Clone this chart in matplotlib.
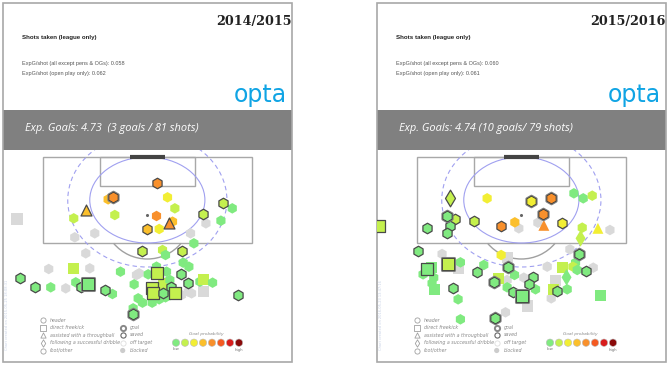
import numpy as np
import matplotlib.pyplot as plt
from matplotlib.patches import Rectangle, Ellipse, Arc

W, H = 670, 365

seasons = ['2014/2015', '2015/2016']
expg_all = [0.058, 0.060]
expg_open = [0.062, 0.061]
band_texts = ['Exp. Goals: 4.73  (3 goals / 81 shots)',
              'Exp. Goals: 4.74 (10 goals/ 79 shots)']
created = ['Chart created on 2015-05-25 18:08:31', 'Chart created on 2016-05-23 13:47:16']

# shot positions in pitch units (x across, y down from top of pitch area)
x_1415 = [470, 340, 325, 503, 525, 345, 260, 222, 470, 518, 508, 442, 478, 668, 697,
          608, 663, 618, 52, 285, 225, 572, 582, 428, 488, 497, 545, 258, 550, 567,
          147, 222, 270, 362, 470, 500, 410, 418, 445, 472, 543, 62, 105, 153, 198,
          228, 245, 265, 315, 338, 403, 455, 460, 490, 510, 512, 490, 525, 565, 600,
          610, 638, 545, 565, 575, 610, 715, 415, 428, 457, 478, 497, 512, 400, 400]
y_1415 = [100, 142, 148, 142, 175, 195, 180, 205, 198, 215, 218, 237, 237, 158, 175,
          193, 212, 220, 207, 250, 262, 250, 280, 303, 300, 315, 303, 310, 338, 350,
          357, 355, 355, 365, 350, 365, 375, 370, 373, 370, 373, 383, 412, 412, 415,
          397, 412, 402, 420, 432, 403, 415, 430, 400, 390, 410, 430, 430, 400, 395,
          388, 398, 435, 425, 430, 425, 435, 445, 458, 458, 448, 442, 435, 475, 493]
kind_1415 = 'hhhhhh^hhh^hhhh' 'hhhshhhhhhhhhhh' 'hshhhhhhhshhhhh' 'hhshhhssshhhshh' 'shhhhshhhhhhhhh'
prob_1415 = [4, 4, 3, 2, 1, 1, 3, 1, 4, 3, 4, 3, 2, 1, 0,
             1, 0, 0, 0, 0, 0, 0, 0, 1, 1, 0, 1, 0, 0, 0,
             0, 1, 0, 0, 0, 0, 0, 0, 0, 1, 0, 0, 0, 0, 0,
             0, 0, 0, 0, 0, 0, 1, 1, 1, 0, 0, 0, 1, 0, 0,
             1, 0, 0, 0, 0, 0, 0, 0, 0, 0, 0, 0, 0, 0, 0]
result_1415 = 'sgoooosooossoso' 'sobbbbbosoosboo' 'bobooobbossssob' 'osgsoossoosssso' 'oobbbbsooooooog'

x_1516 = [600, 628, 655, 340, 472, 532, 228, 508, 220, 245, 228, 220, 160, 300, 382,
          423, 435, 492, 510, 565, 625, 672, 708, 620, 15, 132, 205, 222, 260, 382,
          400, 588, 615, 605, 330, 160, 173, 148, 180, 175, 182, 253, 310, 403, 422,
          520, 565, 597, 610, 637, 658, 375, 362, 400, 450, 478, 465, 485, 545, 578,
          238, 400, 418, 445, 538, 550, 580, 680, 253, 532, 460, 395, 260, 365]
y_1516 = [130, 145, 137, 145, 153, 145, 145, 193, 198, 208, 228, 248, 233, 212, 228,
          217, 235, 218, 226, 218, 233, 235, 240, 265, 228, 302, 312, 342, 337, 315,
          322, 298, 312, 338, 345, 358, 352, 373, 383, 400, 418, 355, 367, 352, 375,
          350, 352, 350, 360, 362, 353, 385, 395, 390, 383, 380, 403, 418, 392, 382,
          415, 412, 425, 438, 418, 422, 418, 437, 448, 445, 468, 487, 508, 503]
kind_1516 = 'hhhhhhdhhhhhhhh' 'hhh^hh^hdshhshh' 'shhhhsshhhsshhh' 'hshhhhshhhhhhsd' 'hhhsshhshhshhh'
prob_1516 = [0, 0, 1, 2, 2, 4, 1, 4, 0, 1, 0, 0, 0, 1, 4,
             3, 0, 0, 4, 2, 1, 2, 0, 1, 1, 0, 0, 1, 0, 2,
             0, 0, 0, 0, 0, 0, 0, 0, 0, 0, 0, 0, 0, 0, 0,
             0, 1, 1, 0, 0, 0, 1, 0, 0, 0, 0, 0, 0, 0, 0,
             0, 0, 0, 0, 1, 0, 0, 0, 0, 0, 0, 0, 0, 0]
result_1516 = 'ooooggsggssssss' 'obbosoobossbgoo' 'bbgoosooooobsgo' 'booosbogbbssobo' 'sosgosooobbbog'

shots = [(x_1415, y_1415, kind_1415, prob_1415, result_1415),
         (x_1516, y_1516, kind_1516, prob_1516, result_1516)]

prob_colors = ['#80ea80', '#c4f04e', '#f2ee34', '#fbbf2c', '#f8902c', '#f45a22', '#d81c1c', '#8a0a0a']
kind_names = ['header', 'direct freekick', 'assisted with a throughball',
              'following a successful dribble', 'foot/other']
kind_marks = ['o', 's', '^', 'd', 'o']
result_names = ['goal', 'saved', 'off target', 'blocked']

sizes = {'h': 58, 's': 64, '^': 62, 'd': 72}
zord = {'b': 2, 'o': 3, 's': 4, 'g': 5}

fig = plt.figure(figsize=(6.7, 3.65), dpi=100)
bg = fig.add_axes([0, 0, 1, 1])
bg.set_xlim(0, W)
bg.set_ylim(H, 0)
bg.axis('off')


def px_axes(x0, y0, x1, y1):
    return fig.add_axes([x0 / W, 1 - y1 / H, (x1 - x0) / W, (y1 - y0) / H])


for i, dx in enumerate([0, 374]):
    # panel frame and header
    bg.add_patch(Rectangle((3 + dx, 110), 289, 40, fc='#808080', ec='none'))
    bg.add_patch(Rectangle((3 + dx, 3), 289, 359, fill=False, ec='#a8a8a8', lw=1.2))
    bg.text(292 + dx, 25, seasons[i], ha='right', va='baseline', family='DejaVu Serif',
            weight='bold', fontsize=9.2, color='#222222')
    bg.text(22 + dx, 38, 'Shots taken (league only)', ha='left', va='center',
            family='Liberation Sans', weight='bold', fontsize=4.4, color='#222222')
    bg.text(22 + dx, 63, 'ExpG/shot (all except pens & OGs): %.3f' % expg_all[i],
            ha='left', va='center', family='Liberation Sans', fontsize=4.0, color='#555555')
    bg.text(22 + dx, 73, 'ExpG/shot (open play only): %.3f' % expg_open[i],
            ha='left', va='center', family='Liberation Sans', fontsize=4.0, color='#555555')
    bg.text(287 + dx, 102, 'opta', ha='right', va='baseline', family='DejaVu Sans',
            fontsize=17, color='#10a4e4')
    bg.text(25 + dx, 129, band_texts[i], ha='left', va='center', family='Open Sans',
            style='italic', fontsize=7.9, color='white')
    bg.text(7 + dx, 350, created[i], rotation=90, ha='center', va='bottom',
            fontsize=2.6, color='#c8d2e6')

    # legend
    rows = [320, 327.5, 335, 342.5, 350.5]
    for r, (nm, mk) in enumerate(zip(kind_names, kind_marks)):
        bg.scatter(43 + dx, rows[r], marker=mk, s=14, fc='white', ec='#a0a0a0', lw=0.6)
        bg.text(50 + dx, rows[r], nm, ha='left', va='center', fontsize=3.4,
                style='italic', color='#8a8a8a')
    res_style = [('white', '#888888', 1.4), ('white', '#666666', 0.8),
                 ('white', '#dddddd', 0.6), ('#cccccc', 'none', 0)]
    for r, nm in enumerate(result_names):
        fc, ec, lw = res_style[r]
        bg.scatter(122.7 + dx, rows[r + 1], marker='o', s=14, fc=fc, ec=ec, lw=lw)
        bg.text(130 + dx, rows[r + 1], nm, ha='left', va='center', fontsize=3.4,
                style='italic', color='#8a8a8a')
    bg.text(206 + dx, 333.7, 'Goal probability', ha='center', va='center', fontsize=3.2,
            style='italic', color='#8a8a8a')
    cx = 176 + dx + 9 * np.arange(len(prob_colors))
    bg.scatter(cx, np.full(len(cx), 342.7), s=28, c=prob_colors, ec='#bbbbbb', lw=0.4)
    bg.text(cx[0], 349.5, 'low', ha='center', va='center', fontsize=2.8, color='#777777')
    bg.text(cx[-1], 349.5, 'high', ha='center', va='center', fontsize=2.8, color='#777777')

    # pitch
    ax = px_axes(3 + dx, 150, 292 + dx, 362)
    ax.set_xlim(10, 876)
    ax.set_ylim(636, 0)
    ax.axis('off')
    ax.patch.set_alpha(0)
    ax.add_patch(Rectangle((130, 20), 625, 260, fill=False, ec='#a8a8a8', lw=1.0))
    ax.add_patch(Rectangle((300, 20), 285, 88, fill=False, ec='#a8a8a8', lw=1.0))
    ax.plot([390, 495], [20, 20], color='#444444', lw=3, solid_capstyle='butt')
    ax.add_patch(Ellipse((442.5, 150), 345, 258, fill=False, ec='#a0a0f0', lw=0.8))
    ax.add_patch(Ellipse((442.5, 150), 477, 402, fill=False, ec='#a0a0f0', lw=0.8, ls=(0, (4, 3))))
    ax.add_patch(Arc((442.5, 195), 264, 264, theta1=40, theta2=140, ec='#a0a0a0', lw=1.0))
    ax.scatter([442.5], [195], s=1.5, c='#666666')

    xs, ys, kinds, probs, results = shots[i]
    assert len(xs) == len(ys) == len(kinds) == len(probs) == len(results)
    for x, y, k, p, r in zip(xs, ys, kinds, probs, results):
        fc = '#d9d9d9' if r == 'b' else prob_colors[p]
        s = sizes[k]
        if r == 'g':
            ax.scatter(x, y, marker=k, s=s, fc=fc, ec='#808080', lw=2.2, zorder=zord[r])
            ax.scatter(x, y, marker=k, s=s, fc=fc, ec='#3a3a3a', lw=0.6, zorder=zord[r])
        elif r == 's':
            ax.scatter(x, y, marker=k, s=s, fc=fc, ec='#4a4a4a', lw=0.9, zorder=zord[r])
        else:
            ax.scatter(x, y, marker=k, s=s, fc=fc, ec='none', zorder=zord[r])

fig.savefig('out.png', dpi=100)
